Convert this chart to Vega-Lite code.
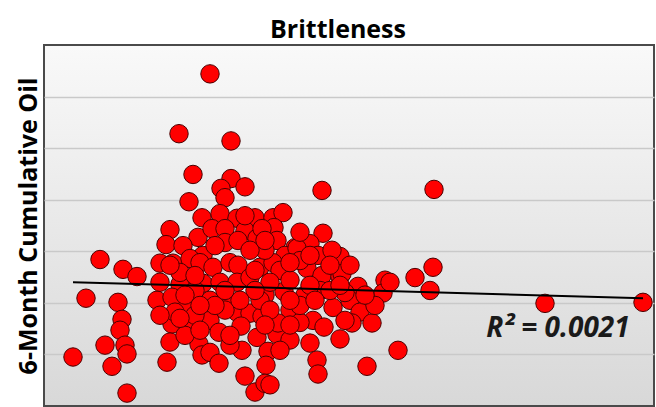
{
  "$schema": "https://vega.github.io/schema/vega-lite/v6.json",
  "autosize": {"type": "none"},
  "padding": {"left": 44, "top": 45, "right": 2, "bottom": 1},
  "width": 610,
  "height": 361,
  "background": "white",
  "title": {
    "text": "Brittleness",
    "font": "Open Sans",
    "fontSize": 25,
    "fontWeight": "bold",
    "color": "#000000",
    "anchor": "middle",
    "dx": -11,
    "offset": 2
  },
  "config": {
    "view": {
      "fill": {
        "gradient": "linear",
        "x1": 0, "y1": 0, "x2": 0, "y2": 1,
        "stops": [
          {"offset": 0, "color": "#f9f9f9"},
          {"offset": 1, "color": "#d8d8d8"}
        ]
      },
      "stroke": "#4a4a4a",
      "strokeWidth": 2
    }
  },
  "datasets": {
    "wells": [
      {"brittleness": 16.6, "oil": 64.4},
      {"brittleness": 13.5, "oil": 52.8},
      {"brittleness": 18.7, "oil": 51.4},
      {"brittleness": 14.9, "oil": 44.9},
      {"brittleness": 18.7, "oil": 44.1},
      {"brittleness": 17.7, "oil": 42.2},
      {"brittleness": 20.1, "oil": 42.5},
      {"brittleness": 18.1, "oil": 40.4},
      {"brittleness": 14.5, "oil": 39.6},
      {"brittleness": 27.8, "oil": 41.8},
      {"brittleness": 39.0, "oil": 42.0},
      {"brittleness": 15.8, "oil": 36.5},
      {"brittleness": 17.6, "oil": 37.3},
      {"brittleness": 19.3, "oil": 36.4},
      {"brittleness": 21.1, "oil": 36.5},
      {"brittleness": 22.9, "oil": 36.5},
      {"brittleness": 23.9, "oil": 37.5},
      {"brittleness": 12.6, "oil": 34.2},
      {"brittleness": 15.4, "oil": 32.7},
      {"brittleness": 16.8, "oil": 34.4},
      {"brittleness": 18.1, "oil": 34.4},
      {"brittleness": 20.1, "oil": 34.0},
      {"brittleness": 21.3, "oil": 32.5},
      {"brittleness": 23.0, "oil": 34.6},
      {"brittleness": 12.2, "oil": 31.3},
      {"brittleness": 13.9, "oil": 31.1},
      {"brittleness": 15.9, "oil": 29.2},
      {"brittleness": 18.1, "oil": 31.7},
      {"brittleness": 19.4, "oil": 32.1},
      {"brittleness": 23.3, "oil": 32.1},
      {"brittleness": 25.1, "oil": 30.7},
      {"brittleness": 27.9, "oil": 33.5},
      {"brittleness": 26.6, "oil": 31.5},
      {"brittleness": 27.4, "oil": 29.2},
      {"brittleness": 29.6, "oil": 29.0},
      {"brittleness": 24.1, "oil": 29.2},
      {"brittleness": 28.8, "oil": 30.2},
      {"brittleness": 12.9, "oil": 27.7},
      {"brittleness": 14.6, "oil": 28.6},
      {"brittleness": 15.6, "oil": 27.8},
      {"brittleness": 16.9, "oil": 26.9},
      {"brittleness": 18.6, "oil": 27.8},
      {"brittleness": 19.4, "oil": 27.3},
      {"brittleness": 21.6, "oil": 26.9},
      {"brittleness": 22.9, "oil": 27.8},
      {"brittleness": 23.6, "oil": 26.3},
      {"brittleness": 26.3, "oil": 26.7},
      {"brittleness": 27.8, "oil": 25.3},
      {"brittleness": 29.6, "oil": 25.1},
      {"brittleness": 31.4, "oil": 23.2},
      {"brittleness": 34.1, "oil": 24.4},
      {"brittleness": 13.6, "oil": 23.6},
      {"brittleness": 15.9, "oil": 23.8},
      {"brittleness": 17.6, "oil": 24.0},
      {"brittleness": 19.3, "oil": 24.0},
      {"brittleness": 20.6, "oil": 24.9},
      {"brittleness": 33.9, "oil": 21.9},
      {"brittleness": 11.3, "oil": 20.5},
      {"brittleness": 12.8, "oil": 21.1},
      {"brittleness": 16.6, "oil": 20.5},
      {"brittleness": 19.3, "oil": 18.2},
      {"brittleness": 20.6, "oil": 18.0},
      {"brittleness": 21.8, "oil": 17.4},
      {"brittleness": 24.0, "oil": 22.2},
      {"brittleness": 24.6, "oil": 18.6},
      {"brittleness": 26.1, "oil": 21.5},
      {"brittleness": 26.9, "oil": 16.6},
      {"brittleness": 28.9, "oil": 19.1},
      {"brittleness": 30.6, "oil": 20.5},
      {"brittleness": 31.6, "oil": 18.2},
      {"brittleness": 32.8, "oil": 16.1},
      {"brittleness": 12.8, "oil": 15.9},
      {"brittleness": 14.4, "oil": 15.3},
      {"brittleness": 16.6, "oil": 16.6},
      {"brittleness": 17.5, "oil": 14.3},
      {"brittleness": 19.7, "oil": 15.5},
      {"brittleness": 21.3, "oil": 13.3},
      {"brittleness": 23.3, "oil": 13.9},
      {"brittleness": 25.6, "oil": 16.2},
      {"brittleness": 28.0, "oil": 15.3},
      {"brittleness": 29.6, "oil": 13.0},
      {"brittleness": 12.6, "oil": 12.4},
      {"brittleness": 15.5, "oil": 12.0},
      {"brittleness": 15.8, "oil": 9.9},
      {"brittleness": 16.6, "oil": 10.4},
      {"brittleness": 19.8, "oil": 10.8},
      {"brittleness": 22.4, "oil": 10.6},
      {"brittleness": 26.6, "oil": 12.2},
      {"brittleness": 12.3, "oil": 8.5},
      {"brittleness": 17.5, "oil": 8.3},
      {"brittleness": 20.1, "oil": 5.8},
      {"brittleness": 22.2, "oil": 7.9},
      {"brittleness": 27.3, "oil": 8.9},
      {"brittleness": 27.4, "oil": 6.2},
      {"brittleness": 32.3, "oil": 7.7},
      {"brittleness": 21.1, "oil": 2.7},
      {"brittleness": 22.1, "oil": 4.4},
      {"brittleness": 35.4, "oil": 10.8},
      {"brittleness": 30.8, "oil": 16.1},
      {"brittleness": 23.4, "oil": 16.1},
      {"brittleness": 14.3, "oil": 19.1},
      {"brittleness": 13.1, "oil": 18.2},
      {"brittleness": 5.6, "oil": 28.4},
      {"brittleness": 7.9, "oil": 26.5},
      {"brittleness": 9.3, "oil": 25.1},
      {"brittleness": 4.2, "oil": 20.9},
      {"brittleness": 7.4, "oil": 20.1},
      {"brittleness": 7.8, "oil": 16.8},
      {"brittleness": 7.6, "oil": 14.7},
      {"brittleness": 6.1, "oil": 11.8},
      {"brittleness": 8.1, "oil": 11.8},
      {"brittleness": 8.3, "oil": 10.1},
      {"brittleness": 2.9, "oil": 9.5},
      {"brittleness": 6.8, "oil": 7.7},
      {"brittleness": 8.3, "oil": 2.5},
      {"brittleness": 38.9, "oil": 26.9},
      {"brittleness": 37.1, "oil": 24.9},
      {"brittleness": 38.6, "oil": 22.4},
      {"brittleness": 50.1, "oil": 19.9},
      {"brittleness": 59.9, "oil": 20.1},
      {"brittleness": 34.6, "oil": 24.0},
      {"brittleness": 29.8, "oil": 25.7},
      {"brittleness": 25.3, "oil": 30.6},
      {"brittleness": 22.6, "oil": 4.1},
      {"brittleness": 15.1, "oil": 22.4},
      {"brittleness": 18.4, "oil": 20.5},
      {"brittleness": 22.1, "oil": 21.5},
      {"brittleness": 24.6, "oil": 24.4},
      {"brittleness": 27.6, "oil": 22.4},
      {"brittleness": 30.1, "oil": 22.0},
      {"brittleness": 25.6, "oil": 28.2},
      {"brittleness": 22.1, "oil": 30.2},
      {"brittleness": 17.1, "oil": 31.1},
      {"brittleness": 13.6, "oil": 25.9},
      {"brittleness": 11.6, "oil": 24.0},
      {"brittleness": 30.1, "oil": 16.6},
      {"brittleness": 24.6, "oil": 12.8},
      {"brittleness": 18.1, "oil": 18.6},
      {"brittleness": 15.1, "oil": 17.6},
      {"brittleness": 21.6, "oil": 20.5},
      {"brittleness": 25.6, "oil": 19.5},
      {"brittleness": 22.6, "oil": 24.0},
      {"brittleness": 11.6, "oil": 27.7},
      {"brittleness": 30.6, "oil": 27.3},
      {"brittleness": 33.1, "oil": 19.5},
      {"brittleness": 18.6, "oil": 11.8},
      {"brittleness": 21.1, "oil": 22.4},
      {"brittleness": 26.6, "oil": 23.4},
      {"brittleness": 14.1, "oil": 13.7},
      {"brittleness": 28.6, "oil": 22.4},
      {"brittleness": 20.6, "oil": 30.2},
      {"brittleness": 25.6, "oil": 33.7},
      {"brittleness": 21.8, "oil": 34.4},
      {"brittleness": 24.6, "oil": 27.8},
      {"brittleness": 28.6, "oil": 27.3},
      {"brittleness": 27.1, "oil": 20.5},
      {"brittleness": 24.6, "oil": 20.5},
      {"brittleness": 22.6, "oil": 18.6},
      {"brittleness": 17.1, "oil": 19.5},
      {"brittleness": 19.6, "oil": 20.5},
      {"brittleness": 15.6, "oil": 19.5},
      {"brittleness": 14.1, "oil": 21.5},
      {"brittleness": 18.1, "oil": 22.4},
      {"brittleness": 11.6, "oil": 17.6},
      {"brittleness": 13.6, "oil": 17.0},
      {"brittleness": 15.6, "oil": 14.7},
      {"brittleness": 18.6, "oil": 13.7},
      {"brittleness": 22.1, "oil": 15.7},
      {"brittleness": 24.6, "oil": 15.7},
      {"brittleness": 29.6, "oil": 23.4},
      {"brittleness": 32.1, "oil": 21.5},
      {"brittleness": 23.6, "oil": 10.8},
      {"brittleness": 12.6, "oil": 27.3},
      {"brittleness": 21.1, "oil": 26.3},
      {"brittleness": 15.1, "oil": 25.3},
      {"brittleness": 26.6, "oil": 29.2},
      {"brittleness": 20.1, "oil": 36.9},
      {"brittleness": 22.1, "oil": 32.1}
    ],
    "trend": [
      {"brittleness": 2.9, "oil": 24.0},
      {"brittleness": 59.9, "oil": 20.9}
    ]
  },
  "layer": [
    {
      "data": {"name": "wells"},
      "mark": {
        "type": "circle",
        "size": 340,
        "fill": "#ff0000",
        "stroke": "#4a0000",
        "strokeWidth": 1,
        "opacity": 1
      },
      "encoding": {
        "x": {
          "field": "brittleness",
          "type": "quantitative",
          "scale": {"domain": [0, 61], "nice": false, "zero": false},
          "axis": null
        },
        "y": {
          "field": "oil",
          "type": "quantitative",
          "scale": {"domain": [0, 70], "nice": false},
          "axis": {
            "title": "6-Month Cumulative Oil",
            "titleFont": "Open Sans",
            "titleFontSize": 25,
            "titleFontWeight": "bold",
            "titleColor": "#000000",
            "titlePadding": 3,
            "labels": false,
            "ticks": false,
            "domain": false,
            "grid": true,
            "gridColor": "#c9c9c9",
            "gridWidth": 1.5,
            "values": [10, 20, 30, 40, 50, 60]
          }
        }
      }
    },
    {
      "data": {"name": "trend"},
      "mark": {"type": "line", "color": "#000000", "strokeWidth": 2},
      "encoding": {
        "x": {"field": "brittleness", "type": "quantitative"},
        "y": {"field": "oil", "type": "quantitative"}
      }
    },
    {
      "data": {"values": [{"label": "R² = 0.0021"}]},
      "mark": {
        "type": "text",
        "font": "Open Sans",
        "fontSize": 28,
        "fontWeight": "bold",
        "fontStyle": "italic",
        "color": "#1a1a1a",
        "align": "center",
        "baseline": "alphabetic"
      },
      "encoding": {
        "x": {"datum": 51.4, "type": "quantitative"},
        "y": {"datum": 13.3, "type": "quantitative"},
        "text": {"field": "label"}
      }
    }
  ]
}
